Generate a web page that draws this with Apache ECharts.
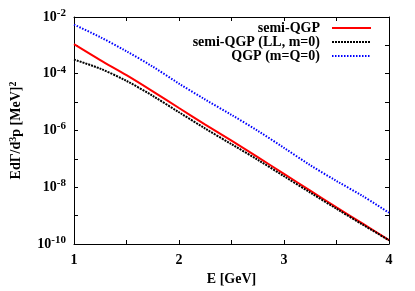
<!DOCTYPE html>
<html><head><meta charset="utf-8">
<script src="https://cdn.jsdelivr.net/npm/echarts@6/dist/echarts.min.js"></script>
<style>html,body{margin:0;padding:0;background:#fff}#c{width:415px;height:291px}</style>
</head><body><div id="c"></div>
<script>
var energies = [1, 1.25, 1.5, 1.75, 2, 2.25, 2.5, 2.75, 3, 3.25, 3.5, 3.75, 4];
var semiQGP = [1.10e-3, 3.02e-4, 8.9e-5, 2.4e-5, 6.2e-6, 1.62e-6, 4.4e-7, 1.15e-7, 2.95e-8, 7.6e-9, 1.95e-9, 5.2e-10, 1.38e-10];
var semiQGP_LL = [3.16e-4, 1.51e-4, 5.6e-5, 1.66e-5, 4.4e-6, 1.17e-6, 3.3e-7, 9.3e-8, 2.45e-8, 6.5e-9, 1.74e-9, 4.8e-10, 1.35e-10];
var QGP = [5.4e-3, 1.95e-3, 6.2e-4, 1.78e-4, 4.5e-5, 1.23e-5, 3.55e-6, 9.8e-7, 2.45e-7, 6.0e-8, 1.66e-8, 4.9e-9, 1.26e-9];
var seriesNames = ['semi-QGP', 'semi-QGP (LL, m=0)', 'QGP (m=Q=0)'];
var xTickLabels = ['1', '2', '3', '4'];

function pairs(ys) { return energies.map(function (e, i) { return [e, ys[i]]; }); }
var FONT = 'Liberation Serif';
var chart = echarts.init(document.getElementById('c'), null, {renderer: 'canvas'});
function legendAt(name, top) {
  return {
    show: true, orient: 'horizontal', align: 'right', itemWidth: 39, itemHeight: 10,
    itemStyle: {opacity: 0, borderWidth: 0},
    formatter: function (n) { return n + '  '; },
    textStyle: {fontFamily: FONT, fontWeight: 'bold', fontSize: 14, color: '#000'},
    right: 43, top: top, padding: 0, data: [name]
  };
}
chart.setOption({
  animation: false,
  grid: {left: 71, right: 26, top: 17, bottom: 47, containLabel: false},
  legend: [legendAt(seriesNames[0], 21), legendAt(seriesNames[1], 35), legendAt(seriesNames[2], 49)],
  xAxis: [{
    type: 'value', min: 1, max: 4, interval: 0.5,
    name: 'E [GeV]', nameLocation: 'middle', nameGap: 28,
    nameTextStyle: {fontFamily: FONT, fontWeight: 'bold', fontSize: 14, color: '#000'},
    axisLine: {lineStyle: {color: '#000', width: 1}},
    axisTick: {inside: true, length: 4, lineStyle: {color: '#000'}},
    splitLine: {show: false},
    axisLabel: {
      fontFamily: FONT, fontWeight: 'bold', fontSize: 14, color: '#000', margin: 9,
      formatter: function (v) { var i = xTickLabels.indexOf(String(v)); return i >= 0 ? xTickLabels[i] : ''; }
    }
  }, {
    type: 'value', min: 1, max: 4, interval: 0.5, position: 'top',
    axisLine: {show: true, lineStyle: {color: '#000', width: 1}},
    axisTick: {inside: true, length: 4, lineStyle: {color: '#000'}},
    axisLabel: {show: false}, splitLine: {show: false}
  }],
  yAxis: [{
    type: 'log', logBase: 10, min: 1e-10, max: 1e-2, interval: 1,
    name: 'EdΓ/d{sup|3}p [MeV]{sup|2}', nameLocation: 'middle', nameGap: 50, nameRotate: 90,
    nameTextStyle: {fontFamily: FONT, fontWeight: 'bold', fontSize: 14, color: '#000',
      rich: {sup: {fontFamily: FONT, fontWeight: 'bold', fontSize: 10, color: '#000', verticalAlign: 'top', padding: [0, 0, 6, 0]}}},
    axisLine: {show: true, lineStyle: {color: '#000', width: 1}},
    axisTick: {inside: true, length: 4, lineStyle: {color: '#000'}},
    splitLine: {show: false},
    axisLabel: {
      fontFamily: FONT, fontWeight: 'bold', fontSize: 14, color: '#000', margin: 8,
      formatter: function (v) {
        var e = Math.round(Math.log10(v));
        if (e % 2 !== 0) return '';
        return '10{sup|' + e + '}';
      },
      rich: {sup: {fontFamily: FONT, fontWeight: 'bold', fontSize: 11, color: '#000', verticalAlign: 'top', padding: [0, 0, 8, 0]}}
    }
  }, {
    type: 'log', logBase: 10, min: 1e-10, max: 1e-2, interval: 1, position: 'right',
    axisLine: {show: true, lineStyle: {color: '#000', width: 1}},
    axisTick: {inside: true, length: 4, lineStyle: {color: '#000'}},
    axisLabel: {show: false}, splitLine: {show: false}
  }],
  series: [
    {name: seriesNames[0], type: 'line', data: pairs(semiQGP), showSymbol: false, symbol: 'none', smooth: 0.3,
      lineStyle: {color: '#ff0000', width: 2}, itemStyle: {color: '#ff0000'}},
    {name: seriesNames[1], type: 'line', data: pairs(semiQGP_LL), showSymbol: false, symbol: 'none', smooth: 0.3,
      lineStyle: {color: '#000000', width: 2, type: [2, 1]}, itemStyle: {color: '#000'}},
    {name: seriesNames[2], type: 'line', data: pairs(QGP), showSymbol: false, symbol: 'none', smooth: 0.3,
      lineStyle: {color: '#0000ff', width: 2, type: [1.5, 1.5]}, itemStyle: {color: '#0000ff'}}
  ]
});
</script></body></html>
